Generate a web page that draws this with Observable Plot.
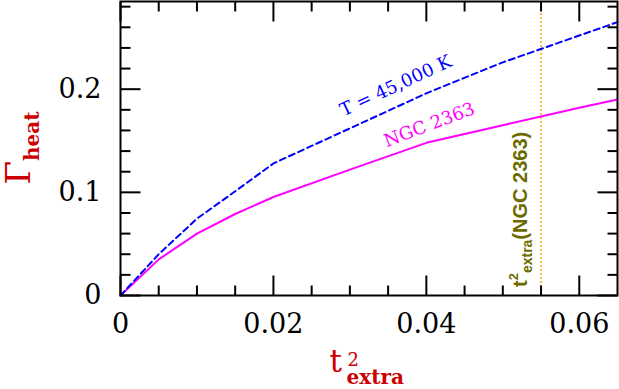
<!DOCTYPE html>
<html><head><meta charset="utf-8">
<script src="https://cdn.jsdelivr.net/npm/d3@7"></script>
<script src="https://cdn.jsdelivr.net/npm/@observablehq/plot@0.6"></script>
<style>body{margin:0;background:#fff;} svg{display:block}</style>
</head><body><div id="chart"></div>
<script>
// x: t^2_extra ; y: Gamma_heat
const tExtra2 = [0, 0.005, 0.01, 0.015, 0.02, 0.03, 0.04, 0.05, 0.06, 0.065];
const gammaT45000 = [0, 0.040, 0.0745, 0.101, 0.128, 0.162, 0.196, 0.226, 0.252, 0.265];
const gammaNGC2363 = [0, 0.035, 0.060, 0.079, 0.0955, 0.122, 0.148, 0.165, 0.182, 0.190];
const tExtra2NGC2363 = 0.055;

const xDomain = [0, 0.065];
const yDomain = [0, 0.285];
const xMajor = [0, 0.02, 0.04, 0.06];
const xMajorLabels = ["0", "0.02", "0.04", "0.06"];
const xMinor = [0.005, 0.01, 0.015, 0.025, 0.03, 0.035, 0.045, 0.05, 0.055];
const yMajor = [0, 0.1, 0.2];
const yMajorLabels = ["0", "0.1", "0.2"];
const yMinor = [0.02, 0.04, 0.06, 0.08, 0.12, 0.14, 0.16, 0.18, 0.22, 0.24, 0.26, 0.28];

const seriesT = tExtra2.map((x, i) => ({x, y: gammaT45000[i]}));
const seriesN = tExtra2.map((x, i) => ({x, y: gammaNGC2363[i]}));

const RED = "#cc0000", BLUE = "#0000ff", MAG = "#ff00ff", ORANGE = "#ffa500", OLIVE = "#6b6b00";

const chart = Plot.plot({
  width: 619, height: 389,
  marginLeft: 120, marginRight: 2, marginTop: 1, marginBottom: 94,
  style: {fontFamily: "DejaVu Serif", background: "white", color: "black"},
  x: {domain: xDomain, label: null},
  y: {domain: yDomain, label: null},
  marks: [
    Plot.ruleX([tExtra2NGC2363], {stroke: ORANGE, strokeDasharray: "2,2", strokeWidth: 1.5}),
    Plot.line(seriesN, {x: "x", y: "y", stroke: MAG, strokeWidth: 2}),
    Plot.line(seriesT, {x: "x", y: "y", stroke: BLUE, strokeWidth: 2, strokeDasharray: "6,4"}),
    Plot.text([{x: 0.0360, y: 0.2033, t: "T = 45,000 K"}], {x: "x", y: "y", text: "t", rotate: -25, fill: BLUE, fontSize: 18}),
    Plot.text([{x: 0.0404, y: 0.1654, t: "NGC 2363"}], {x: "x", y: "y", text: "t", rotate: -20.7, fill: MAG, fontSize: 18}),
    Plot.axisX({anchor: "bottom", ticks: xMajor, tickSize: 0, tickPadding: 18, fontSize: 27, label: null,
      tickFormat: d => xMajorLabels[xMajor.indexOf(d)]}),
    Plot.axisY({anchor: "left", ticks: yMajor, tickSize: 0, tickPadding: 19, fontSize: 27, label: null,
      tickFormat: d => yMajorLabels[yMajor.indexOf(d)]}),
    Plot.frame({strokeWidth: 2})
  ]
});
document.getElementById("chart").appendChild(chart);

const svg = d3.select(chart);
const xs = chart.scale("x"), ys = chart.scale("y");
const [xL, xR] = xs.range, [yB, yT] = ys.range;
const cx = (xL + xR) / 2;
const cy = (yB + yT) / 2;

// inward ticks on all four sides, positioned with Plot's scales
const tg = svg.append("g").attr("stroke", "black").attr("stroke-width", 2).attr("transform", "translate(0.5,0.5)");
for (const [vals, len] of [[xMajor, 20], [xMinor, 10]]) {
  for (const v of vals) {
    const px = xs.apply(v);
    tg.append("line").attr("x1", px).attr("x2", px).attr("y1", yB).attr("y2", yB - len);
    tg.append("line").attr("x1", px).attr("x2", px).attr("y1", yT).attr("y2", yT + len);
  }
}
for (const [vals, len] of [[yMajor, 20], [yMinor, 10]]) {
  for (const v of vals) {
    const py = ys.apply(v);
    tg.append("line").attr("y1", py).attr("y2", py).attr("x1", xL).attr("x2", xL + len);
    tg.append("line").attr("y1", py).attr("y2", py).attr("x1", xR).attr("x2", xR - len);
  }
}

// y axis label: Γ_heat
const yl = svg.append("text")
  .attr("transform", `translate(30,${cy}) rotate(-90)`)
  .attr("text-anchor", "middle").attr("fill", RED).attr("font-family", "DejaVu Serif");
yl.append("tspan").attr("font-size", 34).text("Γ");
yl.append("tspan").attr("font-size", 20).attr("font-weight", "bold").attr("dy", 9).text("heat");

// x axis label: t^2_extra
const xl = svg.append("g").attr("fill", RED).attr("font-family", "DejaVu Serif").attr("text-anchor", "start");
xl.append("text").attr("x", cx - 39).attr("y", 372).attr("font-size", 31).text("t");
xl.append("text").attr("x", cx - 21).attr("y", 366).attr("font-size", 18).text("2");
xl.append("text").attr("x", cx - 22).attr("y", 384).attr("font-size", 20).attr("font-weight", "bold").text("extra");

// vertical label by the t^2_extra(NGC 2363) line
const bx = xs.apply(tExtra2NGC2363) - 14, by = yB - 8;
const ol = svg.append("text")
  .attr("transform", `translate(${bx},${by}) rotate(-90)`)
  .attr("text-anchor", "start")
  .attr("fill", OLIVE).attr("font-family", "Liberation Sans, Arial, sans-serif").attr("font-weight", "bold");
ol.append("tspan").attr("font-size", 20).text("t");
ol.append("tspan").attr("font-size", 13).attr("dy", -9).text("2");
ol.append("tspan").attr("font-size", 14).attr("dy", 14).text("extra");
ol.append("tspan").attr("font-size", 20).attr("dy", -5).text("(NGC 2363)");
</script></body></html>
